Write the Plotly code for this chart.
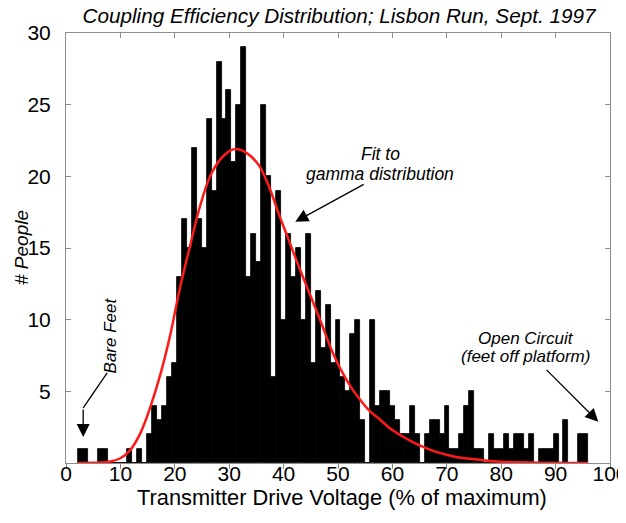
import plotly.graph_objects as go

# Histogram: 103 equal bins starting at 2.17 % with width 0.911 %
BIN_START = 2.17
BIN_WIDTH = 0.911
counts = [1, 1, 0, 0, 1, 1, 0, 0, 0, 0,
          1, 0, 1, 0, 2, 4, 3, 4, 6, 7,
          13, 17, 15, 22, 17, 15, 24, 19, 28, 24,
          26, 21, 25, 29, 13, 16, 14, 25, 20, 6,
          19, 10, 16, 13, 15, 10, 16, 7, 12, 8,
          11, 7, 10, 6, 5, 9, 10, 3, 0, 10,
          4, 5, 5, 4, 3, 2, 2, 4, 2, 0,
          2, 3, 3, 2, 4, 1, 1, 2, 4, 5,
          1, 1, 0, 2, 1, 1, 2, 1, 2, 2,
          1, 2, 0, 1, 1, 1, 2, 0, 3, 0,
          0, 2, 2]
bin_centers = [BIN_START + (i + 0.5) * BIN_WIDTH for i in range(len(counts))]

# Gamma-fit curve
fit_x = [2.1, 6.3, 8.2, 10.0, 11.8, 13.7, 15.5, 17.4, 19.2, 21.0, 22.9, 24.7,
         26.5, 28.4, 30.2, 31.4, 33.3, 35.4, 37.2, 39.1, 40.9, 42.8, 44.9,
         46.7, 48.6, 50.4, 52.2, 54.1, 55.9, 57.8, 59.6, 61.4, 64.2, 67.9,
         71.5, 75.2, 78.5, 84.8, 96.0]
fit_y = [0.0, 0.03, 0.1, 0.33, 0.9, 2.1, 3.9, 6.25, 9.0, 12.3, 15.3, 18.0,
         20.0, 21.2, 21.8, 21.9, 21.6, 20.8, 19.4, 17.4, 15.6, 13.7, 11.7,
         10.0, 8.1, 6.6, 5.4, 4.4, 3.6, 3.0, 2.4, 1.95, 1.37, 0.79,
         0.44, 0.26, 0.12, 0.03, 0.0]

x_ticks = [0, 10, 20, 30, 40, 50, 60, 70, 80, 90, 100]
y_ticks = [5, 10, 15, 20, 25, 30]

FONT = "Liberation Sans, Arial, Helvetica, sans-serif"
AXC = "#8c8c8c"

# the page body has an 8px margin; the figure is sized/offset to compensate
W, H = 618, 515
PL, PR, PT, PB = 58, 16, 25, 60

fig = go.Figure()
fig.add_trace(go.Bar(x=bin_centers, y=counts, width=BIN_WIDTH,
                     marker=dict(color="black", line=dict(color="black", width=0.8)),
                     showlegend=False, hoverinfo="x+y"))
fig.add_trace(go.Scatter(x=fit_x, y=fit_y, mode="lines", line_shape="spline",
                         line=dict(color="#ff1a1a", width=2.5), showlegend=False))
# invisible trace for top axis
fig.add_trace(go.Scatter(x=[0], y=[0], xaxis="x2", mode="markers",
                         marker=dict(opacity=0), showlegend=False, hoverinfo="skip"))

fig.update_layout(
    template="none",
    width=W, height=H,
    margin=dict(l=PL, r=PR, t=PT, b=PB, autoexpand=False),
    paper_bgcolor="white", plot_bgcolor="white",
    bargap=0,
    font=dict(family=FONT, color="black", size=17),
    title=dict(text="<i>Coupling Efficiency Distribution; Lisbon Run, Sept. 1997</i>",
               x=(339 - 66) / 544, xref="paper", xanchor="center",
               y=1 - 7.5 / H, yref="container", yanchor="middle",
               font=dict(size=20.7, family=FONT, color="black")),
    xaxis=dict(range=[0, 100], tickvals=x_ticks, ticks="outside", ticklen=5,
               tickcolor=AXC, showline=True, linecolor=AXC, linewidth=1, mirror=True,
               showgrid=False, zeroline=False, tickfont=dict(size=21), automargin=False,
               ticklabelstandoff=-13, ticklabeloverflow="allow"),
    xaxis2=dict(range=[0, 100], overlaying="x", side="top", tickvals=x_ticks,
                ticks="inside", ticklen=5, tickcolor=AXC, showticklabels=False,
                showline=False, showgrid=False, zeroline=False, automargin=False),
    yaxis=dict(range=[0, 30], tickvals=y_ticks, ticks="inside", ticklen=5,
               tickcolor=AXC, showline=True, linecolor=AXC, linewidth=1, mirror="ticks",
               showgrid=False, zeroline=False, tickfont=dict(size=21),
               ticklabelstandoff=10, automargin=False, ticklabeloverflow="allow"),
)

ann = []
# axis titles
ann.append(dict(text="Transmitter Drive Voltage (% of maximum)", xref="paper", yref="paper",
                x=(342 - 66) / 544, y=(463 - 498) / 430, showarrow=False,
                xanchor="center", yanchor="middle", font=dict(size=21.8)))
ann.append(dict(text="<i># People</i>", xref="paper", yref="paper",
                x=(21 - 66) / 544, y=0.5, showarrow=False, textangle=-90,
                xanchor="center", yanchor="middle", font=dict(size=19)))
# text labels
ann.append(dict(text="<i>Bare Feet</i>", x=8.17, y=8.93, showarrow=False, textangle=-90,
                xanchor="center", yanchor="middle", font=dict(size=17)))
ann.append(dict(text="<i>Fit to</i>", x=57.9, y=(463 - 154) / 14.34, showarrow=False,
                xanchor="center", yanchor="middle", font=dict(size=17.5)))
ann.append(dict(text="<i>gamma distribution</i>", x=57.8, y=(463 - 174) / 14.34,
                showarrow=False, xanchor="center", yanchor="middle", font=dict(size=17.5)))
ann.append(dict(text="<i>Open Circuit</i>", x=84.47, y=8.68, showarrow=False,
                xanchor="center", yanchor="middle", font=dict(size=17)))
ann.append(dict(text="<i>(feet off platform)</i>", x=84.47, y=7.43, showarrow=False,
                xanchor="center", yanchor="middle", font=dict(size=17)))
# arrows
arrow_style = dict(showarrow=True, arrowhead=2, arrowsize=2, arrowwidth=1.3,
                   arrowcolor="black", axref="x", ayref="y", text="", standoff=0)
ann.append(dict(x=42.15, y=16.83, ax=55.0, ay=19.5, **arrow_style))
ann.append(dict(x=97.85, y=2.88, ax=88.06, ay=6.6, **arrow_style))
ann.append(dict(x=3.16, y=1.81, ax=3.16, ay=3.84, **arrow_style))
fig.update_layout(annotations=ann)
fig.add_shape(type="line", x0=7.57, y0=6.28, x1=3.16, y1=3.84,
              line=dict(color="black", width=1.3))

fig.write_html("out.html")
